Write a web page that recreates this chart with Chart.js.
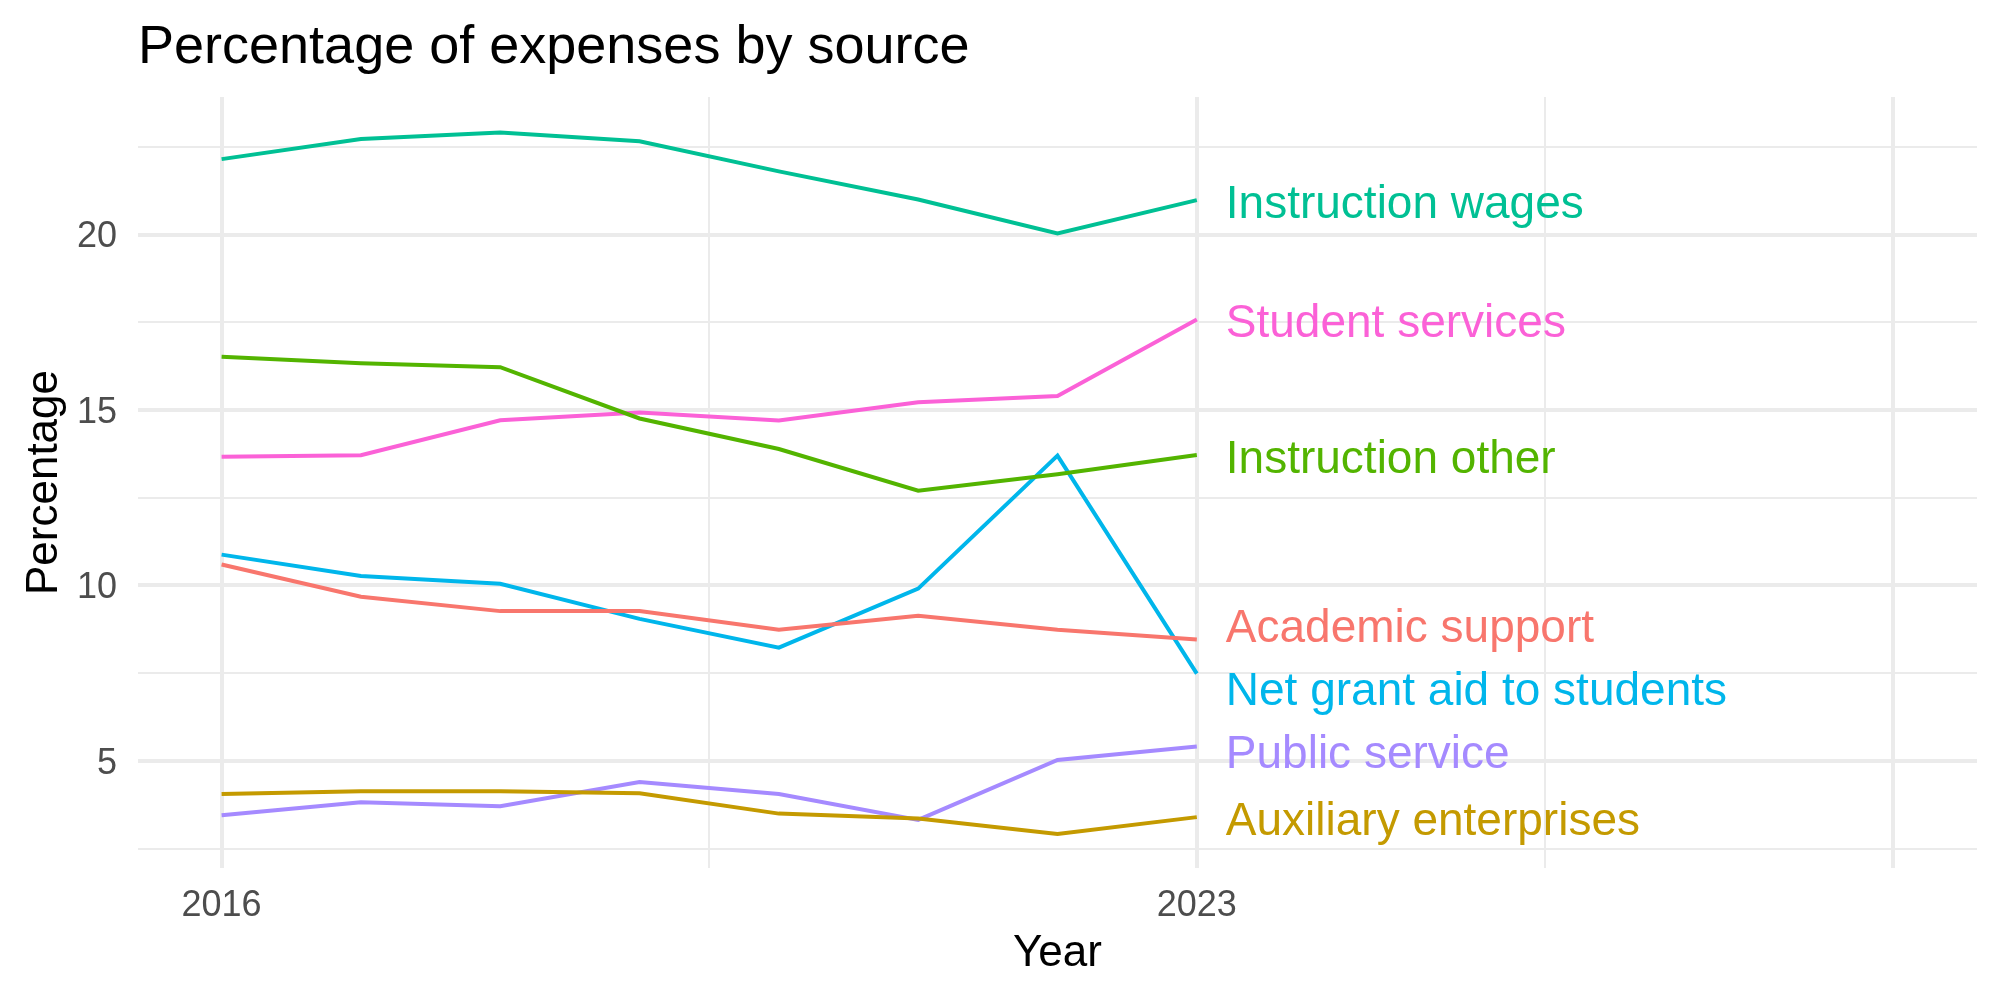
<!DOCTYPE html>
<html>
<head>
<meta charset="utf-8">
<script src="https://cdn.jsdelivr.net/npm/chart.js@4.4.0/dist/chart.umd.min.js"></script>
<style>
  html, body { margin: 0; padding: 0; background: #fff; }
  #wrap { width: 2000px; height: 1000px; }
</style>
</head>
<body>
<div id="wrap"><canvas id="expChart" width="2000" height="1000"></canvas></div>
<script>
// Values
const years = [2016, 2017, 2018, 2019, 2020, 2021, 2022, 2023];
const seriesNames = ['Academic support', 'Auxiliary enterprises', 'Instruction other', 'Instruction wages',
  'Net grant aid to students', 'Public service', 'Student services'];
const academicSupport = [10.60, 9.68, 9.27, 9.27, 8.74, 9.14, 8.74, 8.46];
const auxiliaryEnterprises = [4.06, 4.14, 4.14, 4.08, 3.50, 3.36, 2.92, 3.40];
const instructionOther = [16.52, 16.33, 16.22, 14.76, 13.89, 12.70, 13.17, 13.72];
const instructionWages = [22.15, 22.72, 22.91, 22.66, 21.80, 21.00, 20.03, 20.98];
const netGrantAid = [10.88, 10.27, 10.05, 9.05, 8.23, 9.91, 13.70, 7.49];
const publicService = [3.45, 3.82, 3.71, 4.40, 4.06, 3.32, 5.03, 5.41];
const studentServices = [13.67, 13.71, 14.71, 14.93, 14.70, 15.22, 15.40, 17.58];
const seriesColors = ['#F8766D', '#C49A00', '#53B400', '#00C094', '#00B6EB', '#A58AFF', '#FB61D7'];

// Axis ticks
const xMajorTicks = [2016, 2023, 2028];
const xTickLabels = ['2016', '2023', ''];
const xMinorTicks = [2019.5, 2025.5];
const yMajorTicks = [5, 10, 15, 20];
const yMinorTicks = [2.5, 7.5, 12.5, 17.5, 22.5];

const seriesValues = [academicSupport, auxiliaryEnterprises, instructionOther, instructionWages,
  netGrantAid, publicService, studentServices];
const FONT = '"Liberation Sans", Arial, Helvetica, sans-serif';

// Build ticks list (major + minor) for a scale
function tickList(major, minor) {
  return major.concat(minor).sort((a, b) => a - b).map(v => ({ value: v }));
}

// Push end labels apart so they don't overlap
function repel(items, gap) {
  items.forEach(it => { it.ly = it.y; });
  const sorted = items.slice().sort((a, b) => a.ly - b.ly);
  for (let iter = 0; iter < 300; iter++) {
    for (let k = 0; k < sorted.length - 1; k++) {
      const a = sorted[k], b = sorted[k + 1];
      const d = b.ly - a.ly;
      if (d < gap) {
        const push = (gap - d) / 2;
        a.ly -= push;
        b.ly += push;
      }
    }
  }
}

// Title, axis titles and line-end labels
const textPlugin = {
  id: 'textPlugin',
  afterDatasetsDraw(chart) {
    const { ctx, chartArea, scales: { x, y } } = chart;
    ctx.save();
    ctx.fillStyle = '#000';
    ctx.textBaseline = 'alphabetic';

    ctx.font = `54px ${FONT}`;
    ctx.textAlign = 'left';
    ctx.fillText('Percentage of expenses by source', chartArea.left, 63);

    ctx.font = `44px ${FONT}`;
    ctx.textAlign = 'center';
    ctx.fillText('Year', (chartArea.left + chartArea.right) / 2, 966);

    ctx.save();
    ctx.translate(57, (chartArea.top + chartArea.bottom) / 2);
    ctx.rotate(-Math.PI / 2);
    ctx.fillText('Percentage', 0, 0);
    ctx.restore();

    const last = years.length - 1;
    const items = seriesNames.map((name, i) => ({
      name: name,
      color: seriesColors[i],
      y: y.getPixelForValue(seriesValues[i][last])
    }));
    repel(items, 63);
    const lx = x.getPixelForValue(years[last]) + 29;
    ctx.font = `46px ${FONT}`;
    ctx.textAlign = 'left';
    items.forEach(it => {
      ctx.fillStyle = it.color;
      ctx.fillText(it.name, lx, it.ly + 18);
    });
    ctx.restore();
  }
};

const datasets = seriesNames.map((name, i) => ({
  label: name,
  data: years.map((yr, j) => ({ x: yr, y: seriesValues[i][j] })),
  borderColor: seriesColors[i],
  backgroundColor: seriesColors[i],
  borderWidth: 4,
  pointRadius: 0,
  tension: 0,
  fill: false
}));

new Chart(document.getElementById('expChart'), {
  type: 'line',
  data: { datasets: datasets },
  plugins: [textPlugin],
  options: {
    responsive: false,
    animation: false,
    devicePixelRatio: 1,
    layout: { padding: { top: 97, right: 23, bottom: 0, left: 0 } },
    plugins: {
      legend: { display: false },
      tooltip: { enabled: false },
      title: { display: false }
    },
    scales: {
      x: {
        type: 'linear',
        min: 2015.4,
        max: 2028.6,
        afterBuildTicks: s => { s.ticks = tickList(xMajorTicks, xMinorTicks); },
        afterFit: s => { s.height = 132; },
        border: { display: false },
        grid: {
          color: '#EBEBEB',
          lineWidth: c => (xMajorTicks.includes(c.tick.value) ? 4 : 2),
          drawTicks: false
        },
        ticks: {
          autoSkip: false,
          maxRotation: 0,
          padding: 16,
          color: '#4D4D4D',
          font: { family: FONT, size: 36 },
          callback: v => {
            const k = xMajorTicks.indexOf(v);
            return k >= 0 ? xTickLabels[k] : '';
          }
        }
      },
      y: {
        type: 'linear',
        min: 1.95,
        max: 23.92,
        afterBuildTicks: s => { s.ticks = tickList(yMajorTicks, yMinorTicks); },
        afterFit: s => { s.width = 138; },
        border: { display: false },
        grid: {
          color: '#EBEBEB',
          lineWidth: c => (yMajorTicks.includes(c.tick.value) ? 4 : 2),
          drawTicks: false
        },
        ticks: {
          autoSkip: false,
          padding: 21,
          labelOffset: 3,
          color: '#4D4D4D',
          font: { family: FONT, size: 36 },
          callback: v => (yMajorTicks.includes(v) ? String(v) : '')
        }
      }
    }
  }
});
</script>
</body>
</html>
